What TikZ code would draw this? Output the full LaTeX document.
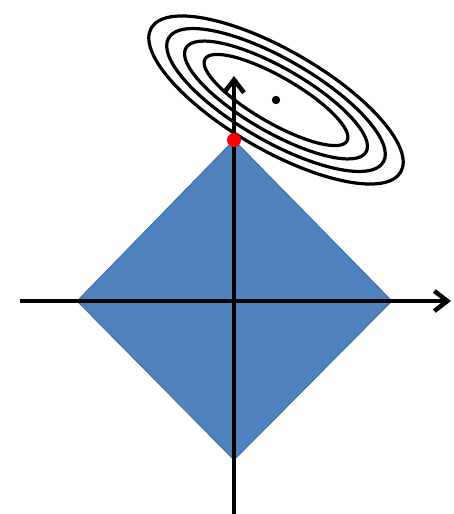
\documentclass[tikz,border=0pt]{standalone}
\usetikzlibrary{arrows.meta}
\definecolor{diamondblue}{HTML}{4F81BD}
\definecolor{diamondedge}{HTML}{3E6DA6}
\begin{document}
\begin{tikzpicture}[x=1pt,y=-1pt,
  axisline/.style={line width=4.5pt,black,-{Straight Barb[length=13pt,width=20pt,line width=4.5pt]}},
  contour/.style={line width=3.2pt,black},
]
\useasboundingbox (0,0) rectangle (454,514);
% diamond
\coordinate (T) at (234,140);
\coordinate (L) at (77,301);
\coordinate (R) at (392,301);
\coordinate (B) at (234,460);
\fill[diamondblue,draw=diamondedge,line width=0.8pt] (T) -- (R) -- (B) -- (L) -- cycle;
% contours
\coordinate (C) at (276,100);
\foreach \a/\b in {144/50,124/41,104/32,82/23}
  \draw[contour,rotate around={-30:(C)}] (C) ellipse[x radius=\a, y radius=\b];
% axes
\coordinate (xs) at (20,301);
\coordinate (xe) at (451,301);
\coordinate (ys) at (234,514);
\coordinate (ye) at (234,76);
\draw[axisline] (xs) -- (xe);
\draw[axisline] (ys) -- (ye);
% dots
\fill[black] (C) circle[radius=4.2];
\fill[red] (T) circle[radius=7];
\end{tikzpicture}
\end{document}
